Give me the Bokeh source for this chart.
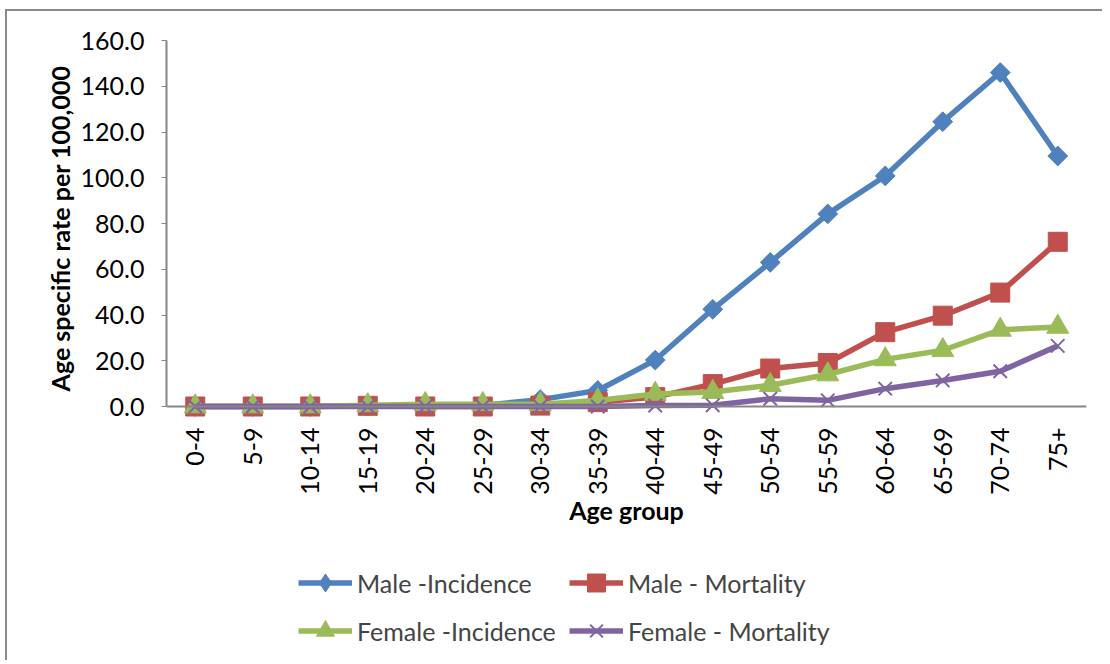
from math import pi
from bokeh.plotting import figure
from bokeh.models import (FactorRange, Range1d, FixedTicker, NumeralTickFormatter,
                          Span, Legend, Label, Title)
from bokeh.core.properties import value
from bokeh.embed import file_html
from bokeh.resources import INLINE

age_groups = ["0-4", "5-9", "10-14", "15-19", "20-24", "25-29", "30-34", "35-39",
              "40-44", "45-49", "50-54", "55-59", "60-64", "65-69", "70-74", "75+"]
male_incidence = [0.0, 0.0, 0.0, 0.2, 0.3, 0.5, 3.0, 7.0, 20.3, 42.5, 63.0, 84.2,
                  100.8, 124.5, 146.0, 109.5]
male_mortality = [0.0, 0.0, 0.0, 0.3, 0.0, 0.0, 0.4, 1.9, 4.1, 9.8, 16.6, 19.0,
                  32.5, 39.7, 49.8, 72.0]
female_incidence = [0.0, 0.0, 0.0, 0.5, 1.0, 1.0, 1.0, 2.6, 5.5, 6.3, 9.3, 14.0,
                    20.6, 24.6, 33.5, 34.8]
female_mortality = [0.0, 0.0, 0.0, 0.0, 0.0, 0.0, 0.0, 0.0, 0.4, 0.5, 3.4, 2.7,
                    7.8, 11.4, 15.4, 26.5]
y_ticks = [0, 20, 40, 60, 80, 100, 120, 140, 160]

FONT = "Lato"
GRAY = "#868686"

# frame: 920 x 620 px, value 160 at top, 366 px for 0..160
FRAME_H = 620
PX_PER_UNIT = 366 / 160
y_bottom = 160 - FRAME_H / PX_PER_UNIT

p = figure(x_range=FactorRange(*age_groups, range_padding=0),
           y_range=Range1d(y_bottom, 160),
           frame_width=920, frame_height=FRAME_H,
           min_border_left=159, min_border_top=29, min_border_right=16,
           min_border_bottom=0, x_axis_location=None,
           output_backend="svg", toolbar_location=None)
p.styles = {"margin-left": "5px", "margin-top": "9px",
            "border-left": "2px solid #8a8a8a", "border-top": "2px solid #8a8a8a"}
p.xgrid.visible = False
p.ygrid.visible = False
p.outline_line_color = None

items = []

# Male incidence: diamonds (rotated squares); a small diamond underneath serves the legend
blue = "#4F81BD"
r1 = p.line(age_groups, male_incidence, line_color=blue, line_width=5.5)
r_leg = p.scatter(age_groups, male_incidence, marker="diamond", size=12,
                  fill_color=blue, line_color=blue)
p.scatter(age_groups, male_incidence, marker="square", size=14, angle=pi / 4,
          fill_color=blue, line_color=blue)
items.append(("Male -Incidence", [r1, r_leg]))

red = "#C0504D"
r1 = p.line(age_groups, male_mortality, line_color=red, line_width=5.5)
r2 = p.scatter(age_groups, male_mortality, marker="square", size=19,
               fill_color=red, line_color=red)
items.append(("Male - Mortality", [r1, r2]))

green = "#9BBB59"
r1 = p.line(age_groups, female_incidence, line_color=green, line_width=5.5)
r2 = p.scatter(age_groups, female_incidence, marker="triangle", size=22,
               fill_color=green, line_color=green)
items.append(("Female -Incidence", [r1, r2]))

purple = "#8064A2"
r1 = p.line(age_groups, female_mortality, line_color=purple, line_width=5.5)
r2 = p.scatter(age_groups, female_mortality, marker="x", size=19,
               line_color=purple, line_width=2)
items.append(("Female - Mortality", [r1, r2]))

# category axis line at zero
p.add_layout(Span(location=0, dimension="width", line_color=GRAY, line_width=2))

# category tick labels (rotated) under the zero line
p.text(x=age_groups, y=[0] * len(age_groups), text=age_groups, angle=pi / 2,
       text_align="right", text_baseline="middle", y_offset=21,
       text_font=value(FONT), text_font_size="25px", text_color="black")

# x axis title
p.add_layout(Label(x=460, y=151, x_units="screen", y_units="screen",
                   text="Age group", text_align="center", text_baseline="middle",
                   text_font=FONT, text_font_size="25px", text_font_style="bold",
                   text_color="black"))

# y axis
ya = p.yaxis[0]
ya.ticker = FixedTicker(ticks=y_ticks)
ya.formatter = NumeralTickFormatter(format="0.0")
ya.bounds = (0, 160)
ya.axis_line_color = GRAY
ya.axis_line_width = 2
ya.major_tick_line_color = GRAY
ya.major_tick_out = 5
ya.major_tick_in = 0
ya.minor_tick_line_color = None
ya.major_label_standoff = 17
ya.major_label_text_font = FONT
ya.major_label_text_font_size = "25px"
ya.major_label_text_color = "black"

# y axis title, aligned to the top part of the frame
p.add_layout(Title(text="Age specific rate per 100,000", align="right", offset=25,
                   text_font=FONT, text_font_size="25px", text_font_style="bold",
                   text_color="black", standoff=6), "left")

legend = Legend(items=items, orientation="horizontal", ncols=2,
                location=(132, 7), border_line_color=None, background_fill_alpha=0,
                padding=0, margin=0, spacing=3,
                glyph_width=54, glyph_height=45, label_standoff=5,
                label_text_font=FONT, label_text_font_size="25px",
                label_height=36, label_width=209)
p.add_layout(legend, "center")

open("out.html", "w").write(file_html(p, INLINE))
